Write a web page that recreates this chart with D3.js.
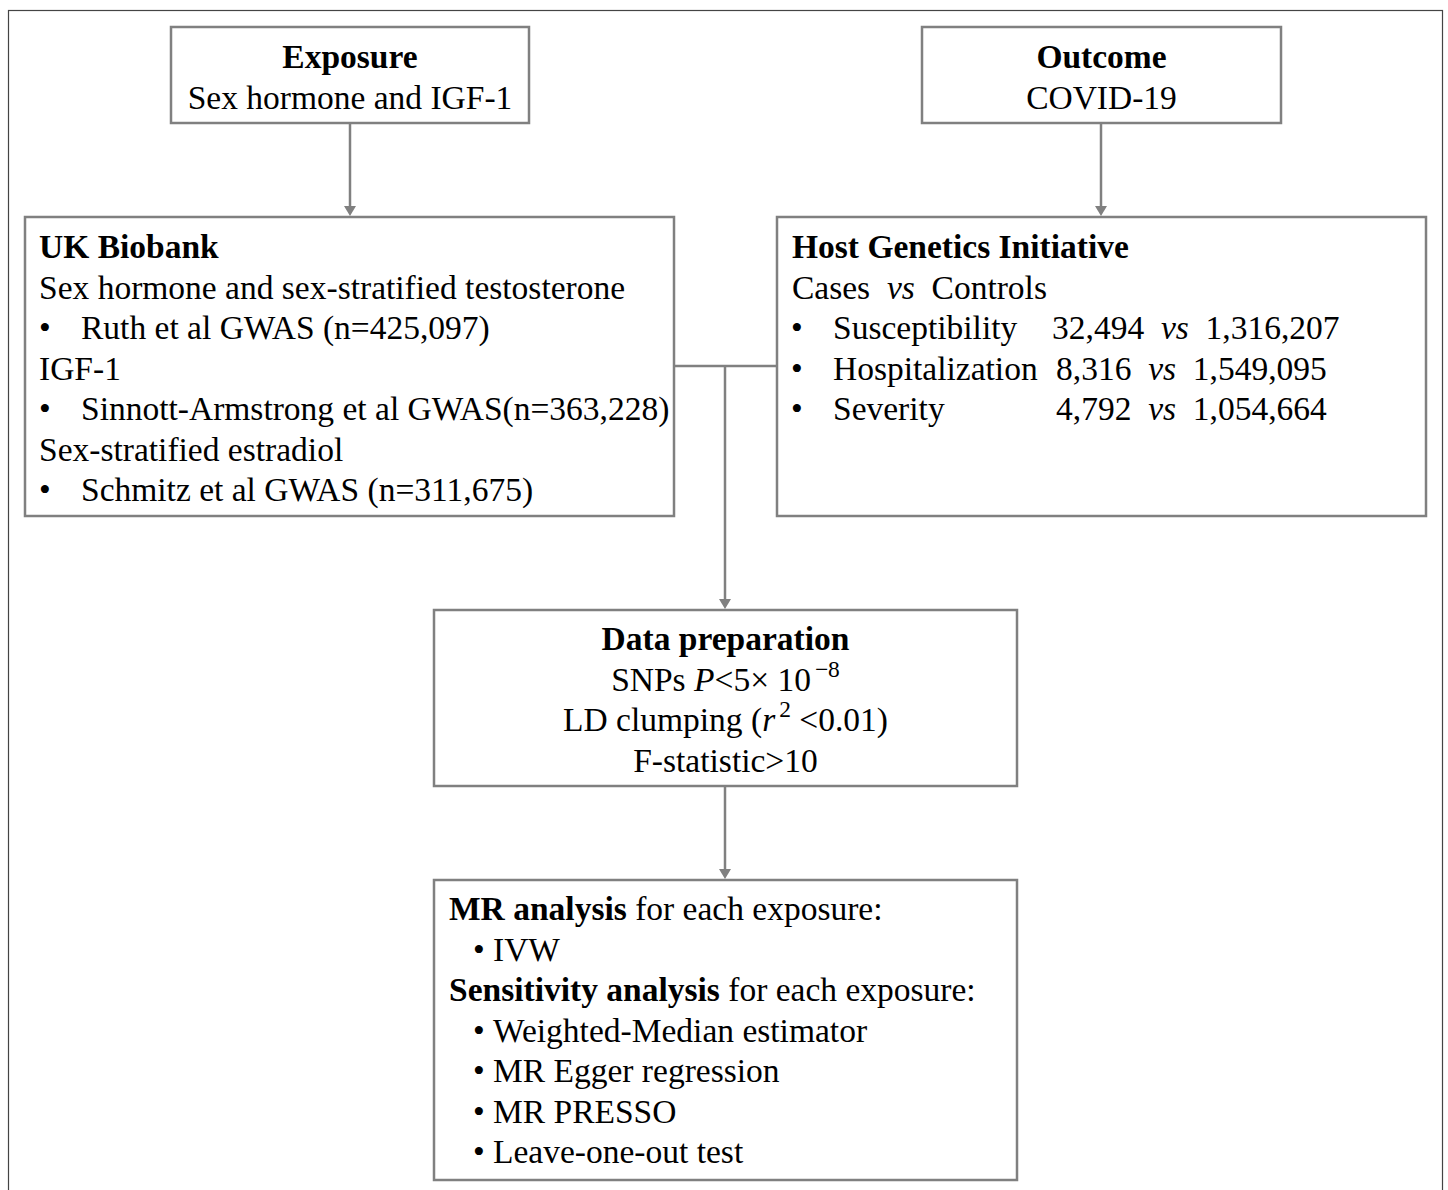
<!DOCTYPE html>
<html>
<head>
<meta charset="utf-8">
<script src="https://cdn.jsdelivr.net/npm/d3@7"></script>
<style>
  body { margin: 0; background: #fff; }
  svg text { font-family: "Liberation Serif", "Times New Roman", serif; fill: #000; }
</style>
</head>
<body>
<div id="chart"></div>
<script>
// box texts: each line is a list of segments (b = bold, i = italic, sup = superscript)
var exposureLines = [
	[{ t: "Exposure", b: 1 }],
	[{ t: "Sex hormone and IGF-1" }]
];
var outcomeLines = [
	[{ t: "Outcome", b: 1 }],
	[{ t: "COVID-19" }]
];
var ukbLines = [
	{ seg: [{ t: "UK Biobank", b: 1 }] },
	{ seg: [{ t: "Sex hormone and sex-stratified testosterone" }] },
	{ bullet: 1, seg: [{ t: "Ruth et al GWAS (n=425,097)" }] },
	{ seg: [{ t: "IGF-1" }] },
	{ bullet: 1, seg: [{ t: "Sinnott-Armstrong et al GWAS(n=363,228)" }] },
	{ seg: [{ t: "Sex-stratified estradiol" }] },
	{ bullet: 1, seg: [{ t: "Schmitz et al GWAS (n=311,675)" }] }
];
var hgiTitle = "Host Genetics Initiative";
var hgiPhenotypes = ["Susceptibility", "Hospitalization", "Severity"];
var hgiCases = ["32,494", "8,316", "4,792"];
var hgiControls = ["1,316,207", "1,549,095", "1,054,664"];
var prepLines = [
	[{ t: "Data preparation", b: 1 }],
	[{ t: "SNPs " }, { t: "P", i: 1 }, { t: "<5× 10" }, { t: "−8", sup: 1 }],
	[{ t: "LD clumping (" }, { t: "r", i: 1 }, { t: "2", sup: 1 }, { t: " <0.01)" }],
	[{ t: "F-statistic>10" }]
];
var mrLines = [
	{ seg: [{ t: "MR analysis", b: 1 }, { t: " for each exposure:" }] },
	{ bullet: 1, seg: [{ t: "IVW" }] },
	{ seg: [{ t: "Sensitivity analysis", b: 1 }, { t: " for each exposure:" }] },
	{ bullet: 1, seg: [{ t: "Weighted-Median estimator" }] },
	{ bullet: 1, seg: [{ t: "MR Egger regression" }] },
	{ bullet: 1, seg: [{ t: "MR PRESSO" }] },
	{ bullet: 1, seg: [{ t: "Leave-one-out test" }] }
];

var W = 1448, H = 1190;
var fontSize = 33.5, lineH = 40.5;
var boxStroke = "#808080";

var svg = d3.select("#chart").append("svg")
	.attr("width", W).attr("height", H)
	.attr("viewBox", "0 0 " + W + " " + H);

// outer frame
svg.append("rect")
	.attr("x", 8.5).attr("y", 10.5)
	.attr("width", 1434).attr("height", 1200)
	.attr("fill", "none").attr("stroke", "#444").attr("stroke-width", 1.2);

var boxes = {
	exposure: { x: 171, y: 27, w: 358, h: 96 },
	outcome: { x: 922, y: 27, w: 359, h: 96 },
	ukb: { x: 25, y: 217, w: 649, h: 299 },
	hgi: { x: 777, y: 217, w: 649, h: 299 },
	prep: { x: 434, y: 610, w: 583, h: 176 },
	mr: { x: 434, y: 880, w: 583, h: 300 }
};

Object.keys(boxes).forEach(function(k) {
	var b = boxes[k];
	svg.append("rect")
		.attr("x", b.x).attr("y", b.y).attr("width", b.w).attr("height", b.h)
		.attr("fill", "#fff").attr("stroke", boxStroke).attr("stroke-width", 2.5);
});

function addSegments(text, segs) {
	var shifted = false;
	segs.forEach(function(s) {
		var ts = text.append("tspan").text(s.t);
		if (s.b) ts.attr("font-weight", "bold");
		if (s.i) ts.attr("font-style", "italic");
		if (s.sup) {
			ts.attr("dy", -14).attr("font-size", fontSize * 0.7).attr("dx", 4);
			shifted = true;
		} else if (shifted) {
			ts.attr("dy", 14);
			shifted = false;
		}
	});
}

function centeredBox(b, lines, firstBaseline) {
	lines.forEach(function(segs, i) {
		var t = svg.append("text")
			.attr("x", b.x + b.w / 2)
			.attr("y", firstBaseline + i * lineH)
			.attr("text-anchor", "middle")
			.attr("font-size", fontSize)
			.attr("xml:space", "preserve");
		addSegments(t, segs);
	});
}

function listBox(lines, x0, bulletX, textX, firstBaseline) {
	lines.forEach(function(ln, i) {
		var y = firstBaseline + i * lineH;
		if (ln.bullet) {
			svg.append("text").attr("x", bulletX).attr("y", y)
				.attr("font-size", fontSize).text("•");
		}
		var t = svg.append("text")
			.attr("x", ln.bullet ? textX : x0)
			.attr("y", y)
			.attr("font-size", fontSize);
		addSegments(t, ln.seg);
	});
}

centeredBox(boxes.exposure, exposureLines, 68);
centeredBox(boxes.outcome, outcomeLines, 68);
centeredBox(boxes.prep, prepLines, 650);

listBox(ukbLines, 39, 39, 81, 258);
listBox(mrLines, 449, 473, 493, 920);

// Host Genetics Initiative box
svg.append("text").attr("x", 792).attr("y", 258)
	.attr("font-size", fontSize).attr("font-weight", "bold").text(hgiTitle);
var cc = svg.append("text").attr("x", 792).attr("y", 298.5)
	.attr("font-size", fontSize).attr("xml:space", "preserve");
addSegments(cc, [{ t: "Cases  " }, { t: "vs", i: 1 }, { t: "  Controls" }]);

var caseCol = [1052, 1056, 1056];
hgiPhenotypes.forEach(function(p, i) {
	var y = 339 + i * lineH;
	svg.append("text").attr("x", 791).attr("y", y).attr("font-size", fontSize).text("•");
	svg.append("text").attr("x", 833).attr("y", y).attr("font-size", fontSize).text(p);
	var c = svg.append("text").attr("x", caseCol[i]).attr("y", y)
		.attr("font-size", fontSize).attr("xml:space", "preserve");
	addSegments(c, [{ t: hgiCases[i] + "  " }, { t: "vs", i: 1 }, { t: "  " + hgiControls[i] }]);
});

// connectors
var lineColor = "#808080";
function arrow(x, y1, y2) {
	svg.append("line").attr("x1", x).attr("x2", x).attr("y1", y1).attr("y2", y2 - 8)
		.attr("stroke", lineColor).attr("stroke-width", 2.5);
	svg.append("path")
		.attr("d", "M" + (x - 6) + "," + (y2 - 11) + "L" + (x + 6) + "," + (y2 - 11) + "L" + x + "," + (y2 - 1) + "Z")
		.attr("fill", lineColor);
}
arrow(350, boxes.exposure.y + boxes.exposure.h, boxes.ukb.y);
arrow(1101, boxes.outcome.y + boxes.outcome.h, boxes.hgi.y);
svg.append("line")
	.attr("x1", boxes.ukb.x + boxes.ukb.w).attr("x2", boxes.hgi.x)
	.attr("y1", 366).attr("y2", 366)
	.attr("stroke", lineColor).attr("stroke-width", 2.5);
arrow(725, 366, boxes.prep.y);
arrow(725, boxes.prep.y + boxes.prep.h, boxes.mr.y);
</script>
</body>
</html>
